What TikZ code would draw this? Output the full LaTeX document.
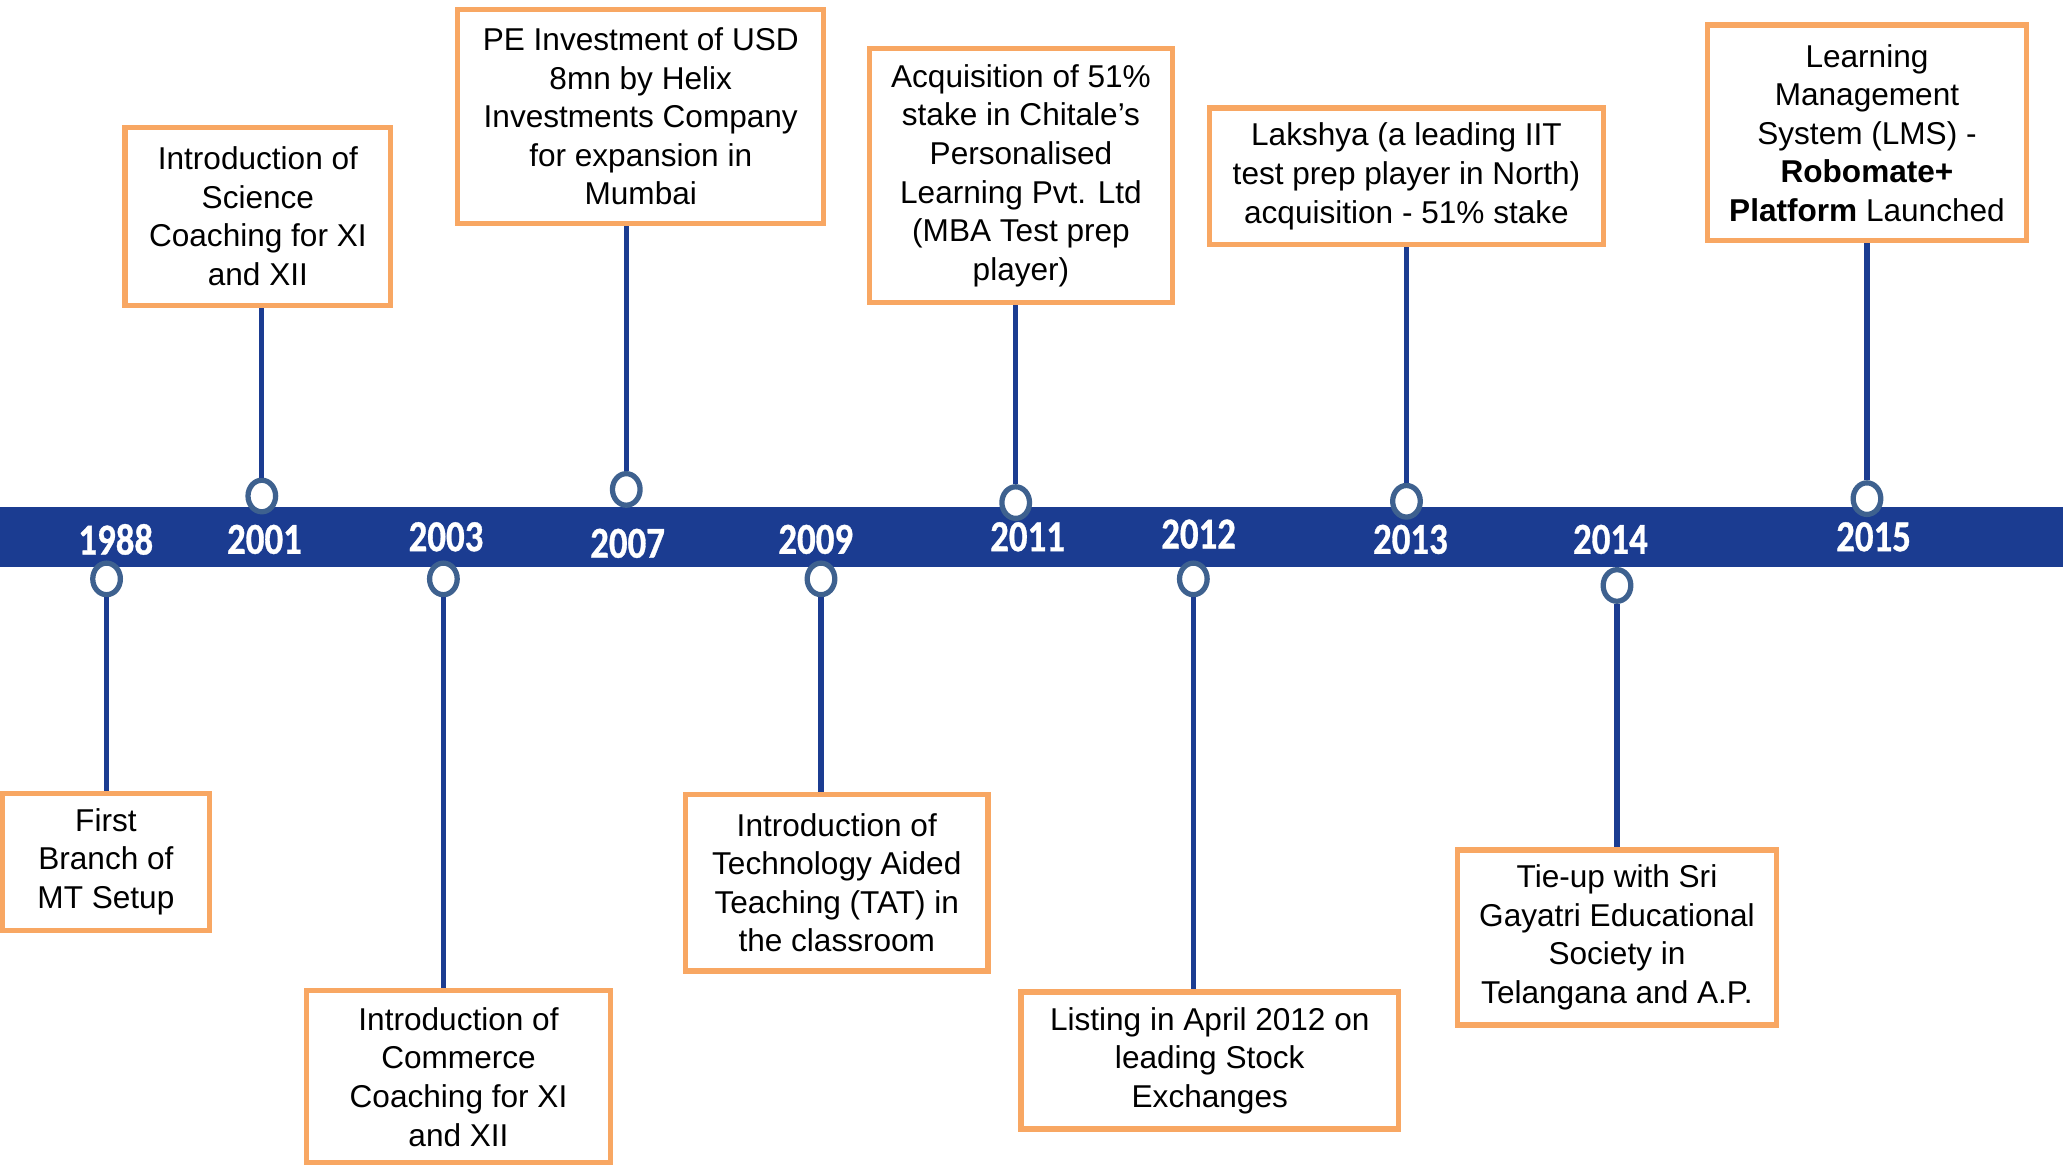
\documentclass[tikz,border=0pt]{standalone}
\usepackage{fontspec}
\setmainfont{Liberation Sans}
\newfontfamily\yearfont[FakeBold=0.8]{Carlito Bold}
\usetikzlibrary{shapes.geometric}
\definecolor{barblue}{RGB}{27,60,145}
\definecolor{knobblue}{RGB}{62,97,143}
\definecolor{boxorange}{RGB}{248,167,99}
\begin{document}
\begin{tikzpicture}[x=1pt,y=-1pt,
  evbox/.style={draw=boxorange,line width=4pt,fill=white,rectangle,inner sep=0pt,align=center,
    font=\fontsize{24}{29.3}\selectfont},
  yr/.style={text=white,inner sep=0pt,font=\yearfont\fontsize{28}{28}\selectfont},
  knob/.style={ellipse,draw=knobblue,line width=4pt,fill=white,inner sep=0pt,
    minimum width=21pt,minimum height=24pt},
  stem/.style={draw=barblue,line width=4pt}]
\useasboundingbox (0,0) rectangle (1568,885);
\fill[white] (0,0) rectangle (1568,885);
% timeline bar
\fill[barblue] (0,385) rectangle (1568,431);
% year labels
\node[yr] (y1988) at (88,410) {\scalebox{1}[1.2]{1988}};
\node[yr] (y2001) at (201,410) {\scalebox{1}[1.2]{2001}};
\node[yr] (y2003) at (339,408) {\scalebox{1}[1.2]{2003}};
\node[yr] (y2007) at (477,413) {\scalebox{1}[1.2]{2007}};
\node[yr] (y2009) at (620,410) {\scalebox{1}[1.2]{2009}};
\node[yr] (y2011) at (781,408) {\scalebox{1}[1.2]{2011}};
\node[yr] (y2012) at (911,406) {\scalebox{1}[1.2]{2012}};
\node[yr] (y2013) at (1072,410) {\scalebox{1}[1.2]{2013}};
\node[yr] (y2014) at (1224,410) {\scalebox{1}[1.2]{2014}};
\node[yr] (y2015) at (1424,408) {\scalebox{1}[1.2]{2015}};
% knobs
\node[knob] (k1988) at (81,440) {};
\node[knob] (k2001) at (199,377) {};
\node[knob] (k2003) at (337,440) {};
\node[knob] (k2007) at (476,372) {};
\node[knob] (k2009) at (624,440) {};
\node[knob] (k2011) at (772,382) {};
\node[knob] (k2012) at (907,440) {};
\node[knob] (k2013) at (1069,381) {};
\node[knob] (k2014) at (1229,445) {};
\node[knob] (k2015) at (1419,379) {};
% boxes
\node[evbox,minimum width=157pt,minimum height=104pt] (b1988) at (80.5,655) {First\\Branch of\\MT Setup};
\node[evbox,minimum width=202pt,minimum height=135pt] (b2001) at (196,164.5) {Introduction of\\Science\\Coaching for XI\\and XII};
\node[evbox,minimum width=231pt,minimum height=131pt] (b2003) at (348.5,818.5) {Introduction of\\Commerce\\Coaching for XI\\and XII};
\node[evbox,minimum width=278pt,minimum height=163pt] (b2007) at (487,88.5) {PE Investment of USD\\8mn by Helix\\Investments Company\\for expansion in\\Mumbai};
\node[evbox,minimum width=230pt,minimum height=134pt] (b2009) at (636,671) {Introduction of\\Technology Aided\\Teaching (TAT) in\\the classroom};
\node[evbox,minimum width=230pt,minimum height=193pt] (b2011) at (776,133.5) {Acquisition of 51\%\\stake in Chitale’s\\Personalised\\Learning Pvt. Ltd\\(MBA Test prep\\player)};
\node[evbox,minimum width=287pt,minimum height=104pt] (b2012) at (919.5,806) {Listing in April 2012 on\\leading Stock\\Exchanges};
\node[evbox,minimum width=300pt,minimum height=104pt] (b2013) at (1069,134) {Lakshya (a leading IIT\\test prep player in North)\\acquisition - 51\% stake};
\node[evbox,minimum width=242pt,minimum height=133pt] (b2014) at (1229,712.5) {Tie-up with Sri\\Gayatri Educational\\Society in\\Telangana and A.P.};
\node[evbox,minimum width=242pt,minimum height=164pt] (b2015) at (1419,101) {Learning\\Management\\System (LMS) -\\\textbf{Robomate+}\\\textbf{Platform} Launched};
% stems
\draw[stem] (k1988.south) -- (k1988.south |- b1988.north);
\draw[stem] (k2003.south) -- (k2003.south |- b2003.north);
\draw[stem] (k2009.south) -- (k2009.south |- b2009.north);
\draw[stem] (k2012.south) -- (k2012.south |- b2012.north);
\draw[stem] (k2014.south) -- (k2014.south |- b2014.north);
\draw[stem] (k2001.north) -- (k2001.north |- b2001.south);
\draw[stem] (k2007.north) -- (k2007.north |- b2007.south);
\draw[stem] (k2011.north) -- (k2011.north |- b2011.south);
\draw[stem] (k2013.north) -- (k2013.north |- b2013.south);
\draw[stem] (k2015.north) -- (k2015.north |- b2015.south);
\end{tikzpicture}
\end{document}
